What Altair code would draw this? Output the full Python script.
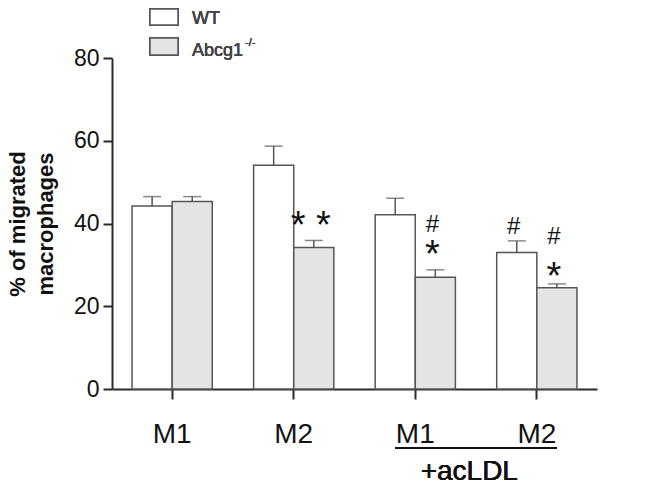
import altair as alt
import pandas as pd

# ---- data ----
groups = ["M1", "M2", "M1 +acLDL", "M2 +acLDL"]
group_labels = ["M1", "M2", "M1", "M2"]
genotypes = ["WT", "Abcg1-/-"]
wt_mean = [44.2, 54.1, 42.1, 33.0]
wt_sem = [2.3, 4.6, 4.0, 2.8]
ko_mean = [45.3, 34.2, 27.0, 24.5]
ko_sem = [1.2, 1.7, 1.8, 0.9]

star_group = ["M2", "M1 +acLDL", "M2 +acLDL"]
star_geno = ["Abcg1-/-", "Abcg1-/-", "Abcg1-/-"]
star_text = ["* *", "*", "*"]
star_y = [41.8, 34.8, 29.5]

hash_group = ["M1 +acLDL", "M2 +acLDL", "M2 +acLDL"]
hash_geno = ["Abcg1-/-", "WT", "Abcg1-/-"]
hash_y = [40.1, 39.4, 37.2]

legend_labels = ["WT", "Abcg1"]
legend_sup = "-/-"
treatment_label = "+acLDL"
y_title = ["% of migrated", "macrophages"]

# ---- tables ----
rows = []
for g, m, s in zip(groups, wt_mean, wt_sem):
    rows.append({"group": g, "genotype": genotypes[0], "mean": m, "upper": m + s})
for g, m, s in zip(groups, ko_mean, ko_sem):
    rows.append({"group": g, "genotype": genotypes[1], "mean": m, "upper": m + s})
bars_df = pd.DataFrame(rows)
stars_df = pd.DataFrame({"group": star_group, "genotype": star_geno, "text": star_text, "y": star_y})
hash_df = pd.DataFrame({"group": hash_group, "genotype": hash_geno, "text": ["#"] * len(hash_y), "y": hash_y})
labels_df = pd.DataFrame({"group": groups, "label": group_labels})

FONT = "Liberation Sans"
AX = "#2b2b2b"
STROKE = "#555555"

xscale = alt.Scale(domain=groups, paddingInner=0.34, paddingOuter=0.165)
xoscale = alt.Scale(domain=genotypes, paddingInner=0, paddingOuter=0)
yscale = alt.Scale(domain=[0, 80], nice=False)

xaxis = alt.Axis(labels=False, title=None, domainColor=AX, domainWidth=2,
                 tickColor=AX, tickWidth=2, tickSize=10, grid=False)
yaxis = alt.Axis(values=[0, 20, 40, 60, 80], grid=False, title=y_title,
                 domainColor=AX, domainWidth=2, tickColor=AX, tickWidth=2, tickSize=9,
                 labelFont=FONT, labelFontSize=23, labelColor="#111111", labelPadding=4,
                 titleFont=FONT, titleFontSize=22, titleFontWeight="bold",
                 titleColor="#111111", titleLineHeight=28, titlePadding=16)


def X():
    return alt.X("group:N", scale=xscale, sort=groups, axis=xaxis)


def XO():
    return alt.XOffset("genotype:N", scale=xoscale, sort=genotypes)


def Y(field):
    return alt.Y(field, scale=yscale, axis=yaxis, title=y_title)


base = alt.Chart(bars_df)

bars = base.mark_bar(stroke=STROKE, strokeWidth=1.5).encode(
    x=X(), xOffset=XO(), y=Y("mean:Q"),
    fill=alt.Color("genotype:N", scale=alt.Scale(domain=genotypes, range=["#ffffff", "#e4e4e4"]),
                   legend=None),
)

stems = base.mark_rule(color=STROKE, strokeWidth=1.5).encode(
    x=X(), xOffset=XO(), y=Y("mean:Q"), y2="upper:Q",
)

caps = base.mark_tick(color=STROKE, thickness=1.5, size=18, orient="horizontal").encode(
    x=X(), xOffset=XO(), y=Y("upper:Q"),
)

stars = alt.Chart(stars_df).mark_text(font=FONT, fontSize=38, color="#111111",
                                      baseline="alphabetic", dy=22, dx=-3).encode(
    x=X(), xOffset=XO(), y=Y("y:Q"), text="text:N",
)

hashes = alt.Chart(hash_df).mark_text(font=FONT, fontSize=24, color="#111111",
                                      baseline="alphabetic", dy=8.5, dx=-3).encode(
    x=X(), xOffset=XO(), y=Y("y:Q"), text="text:N",
)

xlabels = alt.Chart(labels_df).mark_text(font=FONT, fontSize=28, color="#111111",
                                         baseline="alphabetic").encode(
    x=X(), y=alt.value(385), text="label:N",
)

underline = alt.Chart(labels_df).mark_rule(color="#111111", strokeWidth=2,
                                           xOffset=-20, x2Offset=20).encode(
    x=alt.datum(groups[2], scale=xscale, axis=xaxis),
    x2=alt.datum(groups[3]),
    y=alt.value(390),
)

treat = alt.Chart(labels_df).mark_text(font=FONT, fontSize=28, color="#111111",
                                       baseline="alphabetic", dx=54, text=treatment_label).encode(
    x=alt.datum(groups[2], scale=xscale, axis=xaxis),
    y=alt.value(422),
)

# legend (manual, above plot)
leg_box_wt = alt.Chart(labels_df).mark_rect(fill="#ffffff", stroke=STROKE, strokeWidth=1.5).encode(
    x=alt.value(38), x2=alt.value(66), y=alt.value(-49), y2=alt.value(-33))
leg_box_ko = alt.Chart(labels_df).mark_rect(fill="#e4e4e4", stroke=STROKE, strokeWidth=1.5).encode(
    x=alt.value(38), x2=alt.value(66), y=alt.value(-20), y2=alt.value(-3))
leg_txt_wt = alt.Chart(labels_df).mark_text(font=FONT, fontSize=18, color="#444444", align="left",
                                            fontWeight="normal",
                                            baseline="alphabetic", text=legend_labels[0]).encode(
    x=alt.value(80), y=alt.value(-34))
leg_txt_ko = alt.Chart(labels_df).mark_text(font=FONT, fontSize=18, color="#444444", align="left",
                                            fontWeight="normal",
                                            baseline="alphabetic", text=legend_labels[1]).encode(
    x=alt.value(80), y=alt.value(-2))
leg_sup = alt.Chart(labels_df).mark_text(font=FONT, fontSize=11, color="#444444", align="left",
                                         baseline="alphabetic", text=legend_sup).encode(
    x=alt.value(133), y=alt.value(-12))

chart = alt.layer(
    bars, stems, caps, stars, hashes, xlabels, underline, treat,
    leg_box_wt, leg_box_ko, leg_txt_wt, leg_txt_ko, leg_sup,
).properties(
    width=485, height=331,
    autosize=alt.AutoSizeParams(type="none"),
    padding={"left": 104, "top": 50, "right": 50, "bottom": 95},
).configure(background="#ffffff").configure_view(stroke=None)

chart.save("out.html", embed_options={"renderer": "svg", "actions": False})
